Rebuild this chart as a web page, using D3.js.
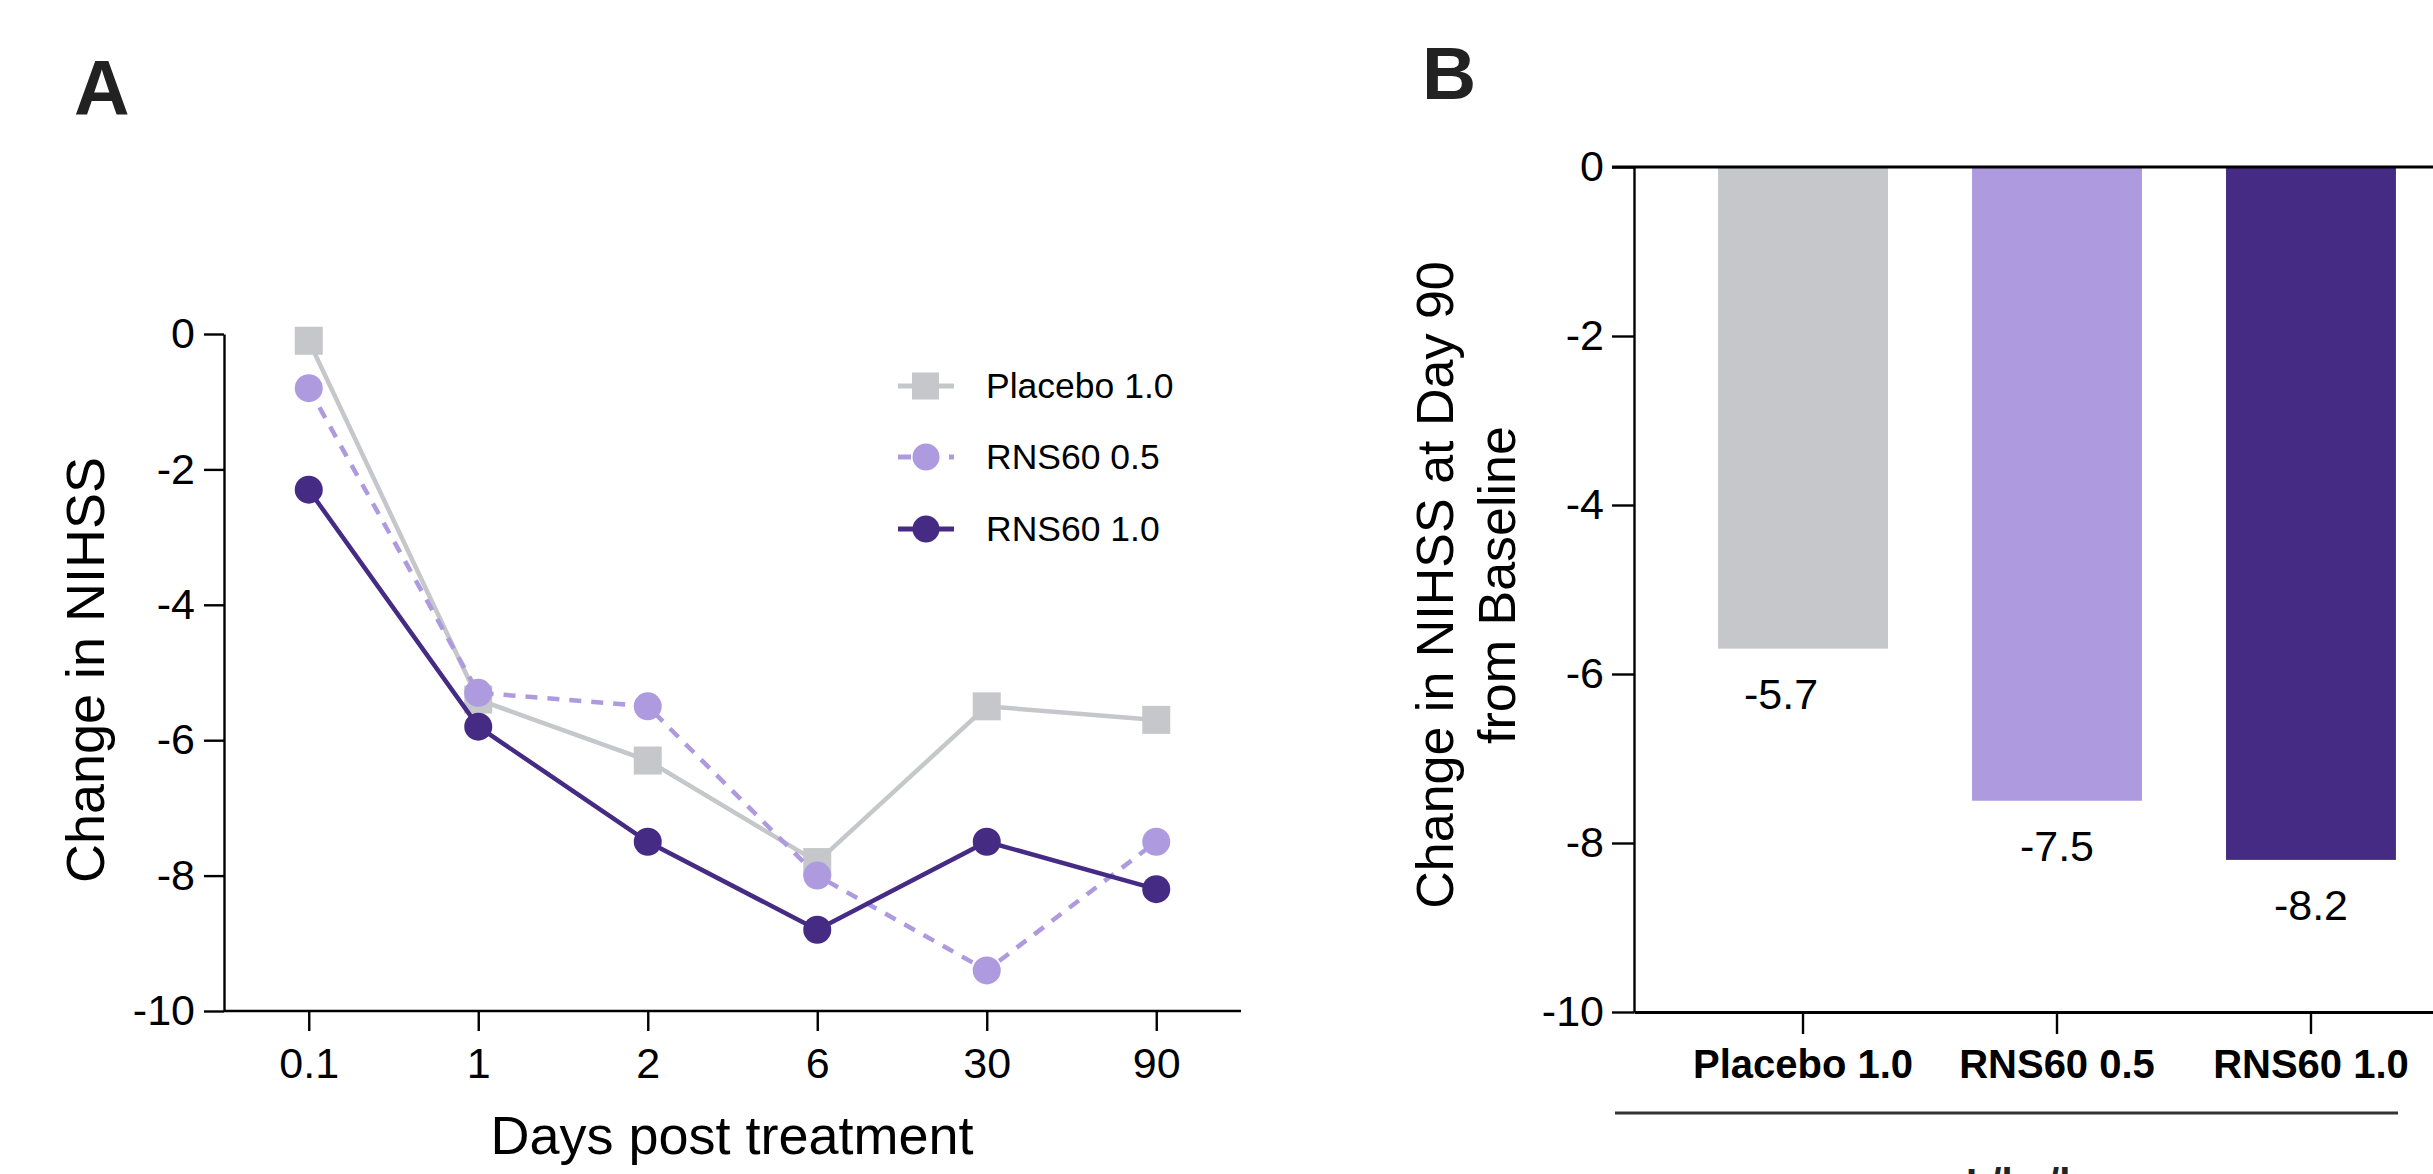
<!DOCTYPE html>
<html>
<head>
<meta charset="utf-8">
<script src="https://cdn.jsdelivr.net/npm/d3@7"></script>
<style>
  body { margin: 0; background: #fff; }
  svg { display: block; font-family: "Liberation Sans", Arial, Helvetica, sans-serif; }
</style>
</head>
<body>
<svg id="chart"></svg>
<script>
const width = 2433;
const height = 1174;

// Panel A data: change in NIHSS over time
const days = ["0.1", "1", "2", "6", "30", "90"];
const placebo = [-0.1, -5.4, -6.3, -7.8, -5.5, -5.7];
const rns05 = [-0.8, -5.3, -5.5, -8.0, -9.4, -7.5];
const rns10 = [-2.3, -5.8, -7.5, -8.8, -7.5, -8.2];
const seriesNames = ["Placebo 1.0", "RNS60 0.5", "RNS60 1.0"];

// Panel B data: change at day 90
const groups = ["Placebo 1.0", "RNS60 0.5", "RNS60 1.0"];
const day90Change = [-5.7, -7.5, -8.2];

const yTicks = [0, -2, -4, -6, -8, -10];

const colors = ["#c6c7ca", "#ae9ade", "#452b84"];

const svg = d3.select("#chart")
  .attr("width", width)
  .attr("height", height)
  .attr("viewBox", [0, 0, width, height]);

const hyphen = d => String(d); // plain hyphen minus, like the original

// ---------- Panel A ----------
const xA = d3.scalePoint().domain(days).range([224, 1241]).padding(0.5);
const yA = d3.scaleLinear().domain([-10, 0]).range([1011, 334]);

const axisW = 2.4;

const gyA = svg.append("g")
  .attr("transform", "translate(224,0)")
  .call(d3.axisLeft(yA).tickValues(yTicks).tickSize(20).tickPadding(9).tickSizeOuter(0).tickFormat(hyphen));

const gxA = svg.append("g")
  .attr("transform", "translate(0,1011)")
  .call(d3.axisBottom(xA).tickSize(20).tickPadding(16).tickSizeOuter(0));

[gyA, gxA].forEach(g => {
  g.selectAll("path, line").attr("stroke", "#000").attr("stroke-width", axisW);
  g.selectAll("text").attr("font-size", 43).attr("fill", "#000").attr("font-family", "Liberation Sans, Arial, sans-serif");
});
gxA.select(".domain").attr("d", "M224,0H1241");

svg.append("text")
  .attr("transform", "translate(104,670) rotate(-90)")
  .attr("text-anchor", "middle")
  .attr("font-size", 54)
  .text("Change in NIHSS");

svg.append("text")
  .attr("x", 732)
  .attr("y", 1154)
  .attr("text-anchor", "middle")
  .attr("font-size", 54)
  .text("Days post treatment");

svg.append("text")
  .attr("x", 74)
  .attr("y", 115)
  .attr("font-size", 77)
  .attr("font-weight", "bold")
  .attr("fill", "#222")
  .text("A");

const seriesData = [placebo, rns05, rns10];
const dashes = [null, "12,10", null];

const line = d3.line()
  .x((d, i) => xA(days[i]))
  .y(d => yA(d));

seriesData.forEach((vals, s) => {
  const g = svg.append("g");
  g.append("path")
    .datum(vals)
    .attr("d", line)
    .attr("fill", "none")
    .attr("stroke", colors[s])
    .attr("stroke-width", 4.5)
    .attr("stroke-dasharray", dashes[s]);

  if (s === 0) {
    g.selectAll("rect")
      .data(vals)
      .join("rect")
      .attr("x", (d, i) => xA(days[i]) - 14)
      .attr("y", d => yA(d) - 14)
      .attr("width", 28)
      .attr("height", 28)
      .attr("fill", colors[s]);
  } else {
    g.selectAll("circle")
      .data(vals)
      .join("circle")
      .attr("cx", (d, i) => xA(days[i]))
      .attr("cy", d => yA(d))
      .attr("r", 14)
      .attr("fill", colors[s]);
  }
});

// legend
const legendY = [386, 457, 529];
seriesNames.forEach((name, s) => {
  const g = svg.append("g").attr("transform", `translate(0,${legendY[s]})`);
  if (s === 1) {
    g.append("line").attr("x1", 898).attr("x2", 911).attr("stroke", colors[s]).attr("stroke-width", 5);
    g.append("line").attr("x1", 949).attr("x2", 954).attr("stroke", colors[s]).attr("stroke-width", 5);
  } else {
    g.append("line").attr("x1", 898).attr("x2", 954).attr("stroke", colors[s]).attr("stroke-width", 5);
  }
  if (s === 0) {
    g.append("rect").attr("x", 912).attr("y", -13.5).attr("width", 27).attr("height", 27).attr("fill", colors[s]);
  } else {
    g.append("circle").attr("cx", 926).attr("cy", 0).attr("r", 13.5).attr("fill", colors[s]);
  }
  g.append("text")
    .attr("x", 986)
    .attr("dy", "0.35em")
    .attr("font-size", 35.5)
    .text(name);
});

// ---------- Panel B ----------
const xB = d3.scaleBand().domain(groups).range([1634, 2480]).paddingInner(0.331).paddingOuter(0.331);
const yB = d3.scaleLinear().domain([-10, 0]).range([1012, 167]);

svg.append("g")
  .selectAll("rect")
  .data(day90Change)
  .join("rect")
  .attr("x", (d, i) => xB(groups[i]))
  .attr("y", yB(0))
  .attr("width", xB.bandwidth())
  .attr("height", d => yB(d) - yB(0))
  .attr("fill", (d, i) => colors[i]);

svg.append("g")
  .selectAll("text")
  .data(day90Change)
  .join("text")
  .attr("x", (d, i) => xB(groups[i]) + xB.bandwidth() / 2 - (i === 0 ? 22 : 0))
  .attr("y", d => yB(d) + 60)
  .attr("text-anchor", "middle")
  .attr("font-size", 43)
  .text(d => d.toFixed(1));

const gyB = svg.append("g")
  .attr("transform", "translate(1634,0)")
  .call(d3.axisLeft(yB).tickValues(yTicks).tickSize(22).tickPadding(8).tickSizeOuter(0).tickFormat(hyphen));

const gxB = svg.append("g")
  .attr("transform", "translate(0,1012)")
  .call(d3.axisBottom(xB).tickSize(22).tickPadding(16).tickSizeOuter(0));

// line at zero
svg.append("line")
  .attr("x1", 1612).attr("x2", width)
  .attr("y1", yB(0)).attr("y2", yB(0))
  .attr("stroke", "#000").attr("stroke-width", 3);

[gyB, gxB].forEach(g => {
  g.selectAll("path, line").attr("stroke", "#000").attr("stroke-width", axisW);
  g.selectAll("text").attr("fill", "#000").attr("font-family", "Liberation Sans, Arial, sans-serif");
});
gyB.selectAll("text").attr("font-size", 43);
gxB.selectAll("text").attr("font-size", 40).attr("font-weight", "bold");
gxB.select(".domain").attr("stroke-width", 3);

svg.append("line")
  .attr("x1", 1615).attr("x2", 2398)
  .attr("y1", 1113).attr("y2", 1113)
  .attr("stroke", "#333").attr("stroke-width", 3);

svg.append("text")
  .attr("x", 2007)
  .attr("y", 1197)
  .attr("text-anchor", "middle")
  .attr("font-size", 40)
  .attr("font-weight", "bold")
  .attr("fill", "#222")
  .text("mL/kg/h");

const titleB = svg.append("text")
  .attr("transform", "translate(1453,585) rotate(-90)")
  .attr("text-anchor", "middle")
  .attr("font-size", 52);
titleB.append("tspan").attr("x", 0).attr("dy", 0).text("Change in NIHSS at Day 90");
titleB.append("tspan").attr("x", 0).attr("dy", 62).text("from Baseline");

svg.append("text")
  .attr("x", 1422)
  .attr("y", 99)
  .attr("font-size", 75)
  .attr("font-weight", "bold")
  .attr("fill", "#222")
  .text("B");
</script>
</body>
</html>
